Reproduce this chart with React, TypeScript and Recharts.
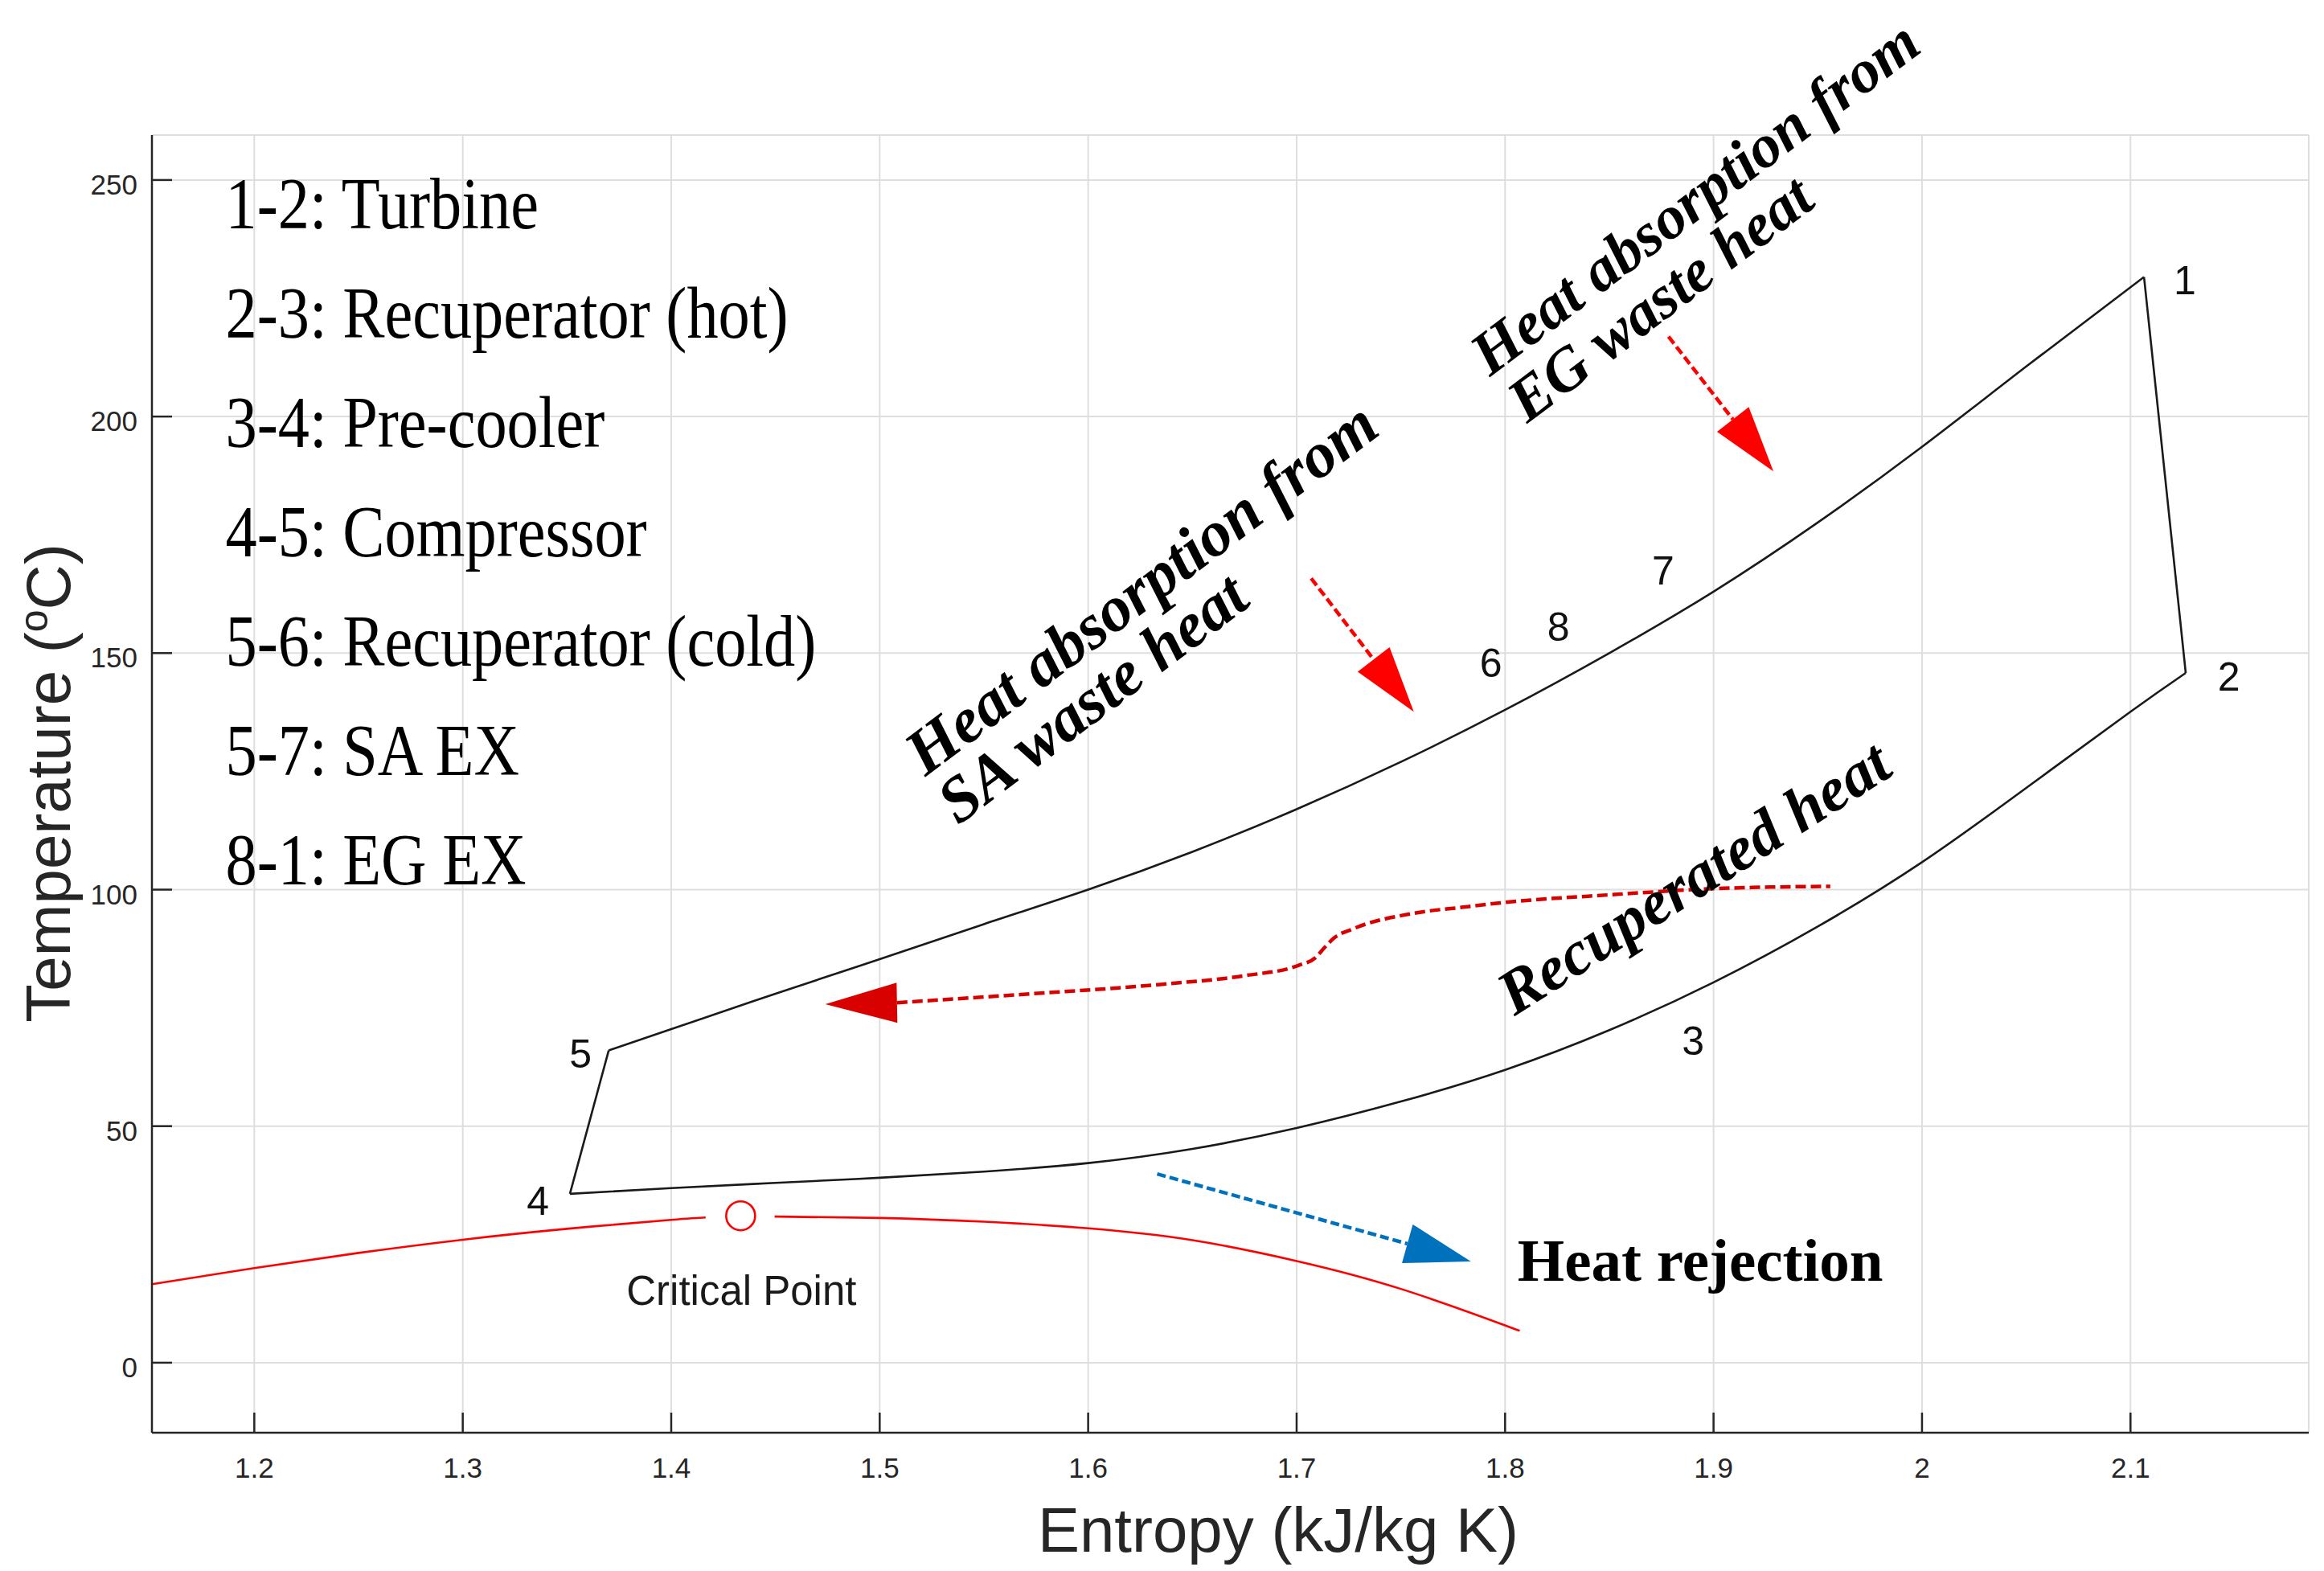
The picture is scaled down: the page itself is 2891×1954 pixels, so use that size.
import { LineChart, Line, XAxis, YAxis, CartesianGrid, ReferenceDot, ReferenceLine } from "recharts";

// entropy (kJ/kg K), temperature (°C) pairs
const CYCLE_HIGH: [number, number][] = [
  [1.370, 66.0], [1.40, 70.5], [1.45, 78.0], [1.50, 85.3], [1.55, 92.7], [1.60, 100.0],
  [1.65, 108.0], [1.70, 117.0], [1.75, 127.0], [1.80, 138.0], [1.85, 150.0], [1.90, 163.0],
  [1.95, 177.6], [2.00, 193.6], [2.05, 210.6], [2.1065, 229.5],
];
const CYCLE_LOW: [number, number][] = [
  [1.3514, 35.7], [1.40, 36.9], [1.45, 38.0], [1.50, 39.1], [1.55, 40.4], [1.60, 42.2],
  [1.65, 45.2], [1.70, 49.6], [1.75, 55.2], [1.80, 61.9], [1.85, 70.3], [1.90, 80.4],
  [1.95, 92.2], [2.00, 105.8], [2.05, 121.5], [2.10, 137.6], [2.1265, 145.8],
];
const TURBINE: [number, number][] = [[2.1065, 229.5], [2.1265, 145.8]];
const COMPRESSOR: [number, number][] = [[1.3514, 35.7], [1.370, 66.0]];

const SAT_LIQUID: [number, number][] = [
  [1.1509, 16.6], [1.20, 20.0], [1.25, 23.2], [1.30, 26.0], [1.35, 28.3], [1.40, 30.2], [1.4165, 30.7],
];
const SAT_VAPOR: [number, number][] = [
  [1.4496, 30.9], [1.50, 30.6], [1.55, 29.8], [1.60, 28.4], [1.65, 25.9], [1.70, 21.5],
  [1.75, 15.6], [1.80, 7.9], [1.804, 7.2],
];
const CRITICAL: [number, number] = [1.4333, 31.05];

const RECUP_ARROW: [number, number][] = [
  [1.5083, 76.1], [1.5668, 77.8], [1.6357, 80.0], [1.675, 81.8], [1.701, 84.0], [1.709, 85.6],
  [1.7135, 87.8], [1.718, 89.8], [1.727, 91.7], [1.7562, 95.0], [1.78, 96.3], [1.80, 97.3],
  [1.85, 98.9], [1.90, 100.2], [1.956, 100.7],
];
const RECUP_HEAD: [number, number][] = [[1.5083, 76.1], [1.4739, 75.8]];
const EG_ARROW: [number, number][] = [[1.8784, 216.9], [1.9287, 188.4]];
const SA_ARROW: [number, number][] = [[1.707, 165.8], [1.7562, 137.6]];
const REJECT_ARROW: [number, number][] = [[1.6331, 39.9], [1.7836, 21.4]];

const STATE_LABELS: [string, number, number][] = [
  ["1", 2.1261, 225.8], ["2", 2.1472, 142.1], ["3", 1.8902, 65.0], ["4", 1.3361, 31.2],
  ["5", 1.3565, 62.3], ["6", 1.7932, 145.0], ["7", 1.8758, 164.5], ["8", 1.8256, 152.6],
];

const LEGEND_LINES = [
  "1-2: Turbine",
  "2-3: Recuperator (hot)",
  "3-4: Pre-cooler",
  "4-5: Compressor",
  "5-6: Recuperator (cold)",
  "5-7: SA EX",
  "8-1: EG EX",
];

const X_TICKS = [1.2, 1.3, 1.4, 1.5, 1.6, 1.7, 1.8, 1.9, 2, 2.1];
const Y_TICKS = [0, 50, 100, 150, 200, 250];

const SANS = "'Liberation Sans', Arial, Helvetica, sans-serif";
const SERIF = "'Liberation Serif', 'Times New Roman', serif";
const AXIS = "#262626";

const toRows = (pts: [number, number][]) => pts.map(([s, T]) => ({ s, T }));

const XTick = (props: any) => {
  const { x, y, payload } = props;
  return (
    <g>
      <line x1={x} y1={y} x2={x} y2={y - 25} stroke={AXIS} strokeWidth={2.5} />
      <text x={x} y={y + 56} textAnchor="middle" fontSize={35} fill={AXIS} fontFamily={SANS}>
        {String(payload.value)}
      </text>
    </g>
  );
};

const YTick = (props: any) => {
  const { x, y, payload } = props;
  return (
    <g>
      <line x1={x} y1={y} x2={x + 25} y2={y} stroke={AXIS} strokeWidth={2.5} />
      <text x={x - 18} y={y + 18} textAnchor="end" fontSize={35} fill={AXIS} fontFamily={SANS}>
        {String(payload.value)}
      </text>
    </g>
  );
};

// dashed shaft + filled triangular head, drawn between two data points
function arrowShape(color: string, dash: string, headOnly = false) {
  return (p: any) => {
    const { x1, y1, x2, y2 } = p;
    const dx = x2 - x1;
    const dy = y2 - y1;
    const len = Math.hypot(dx, dy) || 1;
    const ux = dx / len;
    const uy = dy / len;
    const head = headOnly ? len : 82;
    const bx = x2 - ux * head;
    const by = y2 - uy * head;
    const nx = -uy * 25;
    const ny = ux * 25;
    return (
      <g>
        {!headOnly && (
          <line x1={x1} y1={y1} x2={bx} y2={by} stroke={color} strokeWidth={4.5} strokeDasharray={dash} />
        )}
        <polygon points={`${x2},${y2} ${bx + nx},${by + ny} ${bx - nx},${by - ny}`} fill={color} />
      </g>
    );
  };
}

function arrow(key: string, pts: [number, number][], color: string, dash: string, headOnly = false) {
  return (
    <ReferenceLine
      key={key}
      segment={[{ x: pts[0][0], y: pts[0][1] }, { x: pts[1][0], y: pts[1][1] }]}
      ifOverflow="visible"
      shape={arrowShape(color, dash, headOnly)}
    />
  );
}

function note(key: string, s: number, T: number, draw: (cx: number, cy: number) => any) {
  return (
    <ReferenceDot key={key} x={s} y={T} r={0} ifOverflow="visible" shape={(p: any) => draw(p.cx, p.cy)} />
  );
}

const boldItalic = { fontFamily: SERIF, fontWeight: 700, fontStyle: "italic", fontSize: 80, fill: "#000" } as const;

export default function App() {
  const curve = (key: string, pts: [number, number][], color: string, type: any, extra: any = {}) => (
    <Line
      key={key}
      data={toRows(pts)}
      dataKey="T"
      type={type}
      stroke={color}
      strokeWidth={2.6}
      dot={false}
      activeDot={false}
      isAnimationActive={false}
      {...extra}
    />
  );

  return (
    <div style={{ position: "absolute", left: 0, top: 0, width: 2891, height: 1954, background: "#fff" }}>
      <LineChart width={2891} height={1954} margin={{ top: 168, right: 19, bottom: 72, left: 89 }}>
        <CartesianGrid stroke="#dedede" strokeWidth={2} />
        <XAxis
          type="number"
          dataKey="s"
          domain={[1.1509, 2.1855]}
          ticks={X_TICKS}
          allowDataOverflow
          height={100}
          tickLine={false}
          tickSize={0}
          tickMargin={0}
          tick={<XTick />}
          axisLine={{ stroke: AXIS, strokeWidth: 2.5 }}
        />
        <YAxis
          type="number"
          domain={[-14.8, 259.5]}
          ticks={Y_TICKS}
          allowDataOverflow
          width={100}
          tickLine={false}
          tickSize={0}
          tickMargin={0}
          tick={<YTick />}
          axisLine={{ stroke: AXIS, strokeWidth: 2.5 }}
        />

        {curve("high", CYCLE_HIGH, "#1a1a1a", "natural")}
        {curve("low", CYCLE_LOW, "#1a1a1a", "natural")}
        {curve("turb", TURBINE, "#1a1a1a", "linear")}
        {curve("comp", COMPRESSOR, "#1a1a1a", "linear")}
        {curve("satL", SAT_LIQUID, "#ff0000", "natural")}
        {curve("satV", SAT_VAPOR, "#ff0000", "natural")}
        {curve("recup", RECUP_ARROW, "#d90000", "monotoneX", { strokeWidth: 4.5, strokeDasharray: "13 6" })}

        <ReferenceDot x={CRITICAL[0]} y={CRITICAL[1]} r={18} fill="#fff" stroke="#ff0000" strokeWidth={2.6} ifOverflow="visible" />

        {arrow("recupHead", RECUP_HEAD, "#d90000", "", true)}
        {arrow("eg", EG_ARROW, "#ff0000", "11 5")}
        {arrow("sa", SA_ARROW, "#ff0000", "11 5")}
        {arrow("rej", REJECT_ARROW, "#0072bd", "11 5")}

        {STATE_LABELS.map(([t, s, T]) =>
          note("lbl" + t, s, T, (cx, cy) => (
            <text x={cx} y={cy} textAnchor="middle" fontSize={50} fontFamily={SANS} fill="#111">
              {t}
            </text>
          ))
        )}

        {note("crit", 1.4337, 12.3, (cx, cy) => (
          <text x={cx} y={cy} textAnchor="middle" fontSize={51} fontFamily={SANS} fill="#1a1a1a">
            Critical Point
          </text>
        ))}

        {note("legend", 1.1862, 239.8, (cx, cy) => (
          <g transform={`translate(${cx},${cy}) scale(0.87,1)`}>
            {LEGEND_LINES.map((t, i) => (
              <text key={t} x={0} y={i * 136} fontSize={90} fontFamily={SERIF} fill="#000">
                {t}
              </text>
            ))}
          </g>
        ))}

        {note("eg", 1.7928, 208.3, (cx, cy) => (
          <g transform={`translate(${cx},${cy}) rotate(-37)`} style={{ ...boldItalic, fontSize: 76 }}>
            <text x={0} y={0}>Heat absorption from</text>
            <text x={2} y={74}>EG waste heat</text>
          </g>
        ))}
        {note("sa", 1.522, 123.8, (cx, cy) => (
          <g transform={`translate(${cx},${cy}) rotate(-37)`} style={boldItalic}>
            <text x={0} y={0}>Heat absorption from</text>
            <text x={-4} y={73}>SA waste heat</text>
          </g>
        ))}
        {note("recupText", 1.8045, 73.2, (cx, cy) => (
          <text x={cx} y={cy} transform={`rotate(-32.5 ${cx} ${cy})`} style={{ ...boldItalic, fontSize: 78 }}>
            Recuperated heat
          </text>
        ))}
        {note("reject", 1.806, 17.3, (cx, cy) => (
          <text x={cx} y={cy} fontSize={75} fontWeight={700} fontFamily={SERIF} fill="#000">
            Heat rejection
          </text>
        ))}
      </LineChart>

      <svg
        width={2891}
        height={1954}
        style={{ position: "absolute", left: 0, top: 0, pointerEvents: "none" }}
      >
        <text x={1590} y={1930} textAnchor="middle" fontSize={78} fontFamily={SANS} fill={AXIS}>
          Entropy (kJ/kg K)
        </text>
        <text
          x={87}
          y={974}
          transform="rotate(-90 87 974)"
          textAnchor="middle"
          fontSize={78}
          fontFamily={SANS}
          fill={AXIS}
        >
          Temperature (
          <tspan dy={-28} fontSize={50}>o</tspan>
          <tspan dy={28}>C)</tspan>
        </text>
      </svg>
    </div>
  );
}
